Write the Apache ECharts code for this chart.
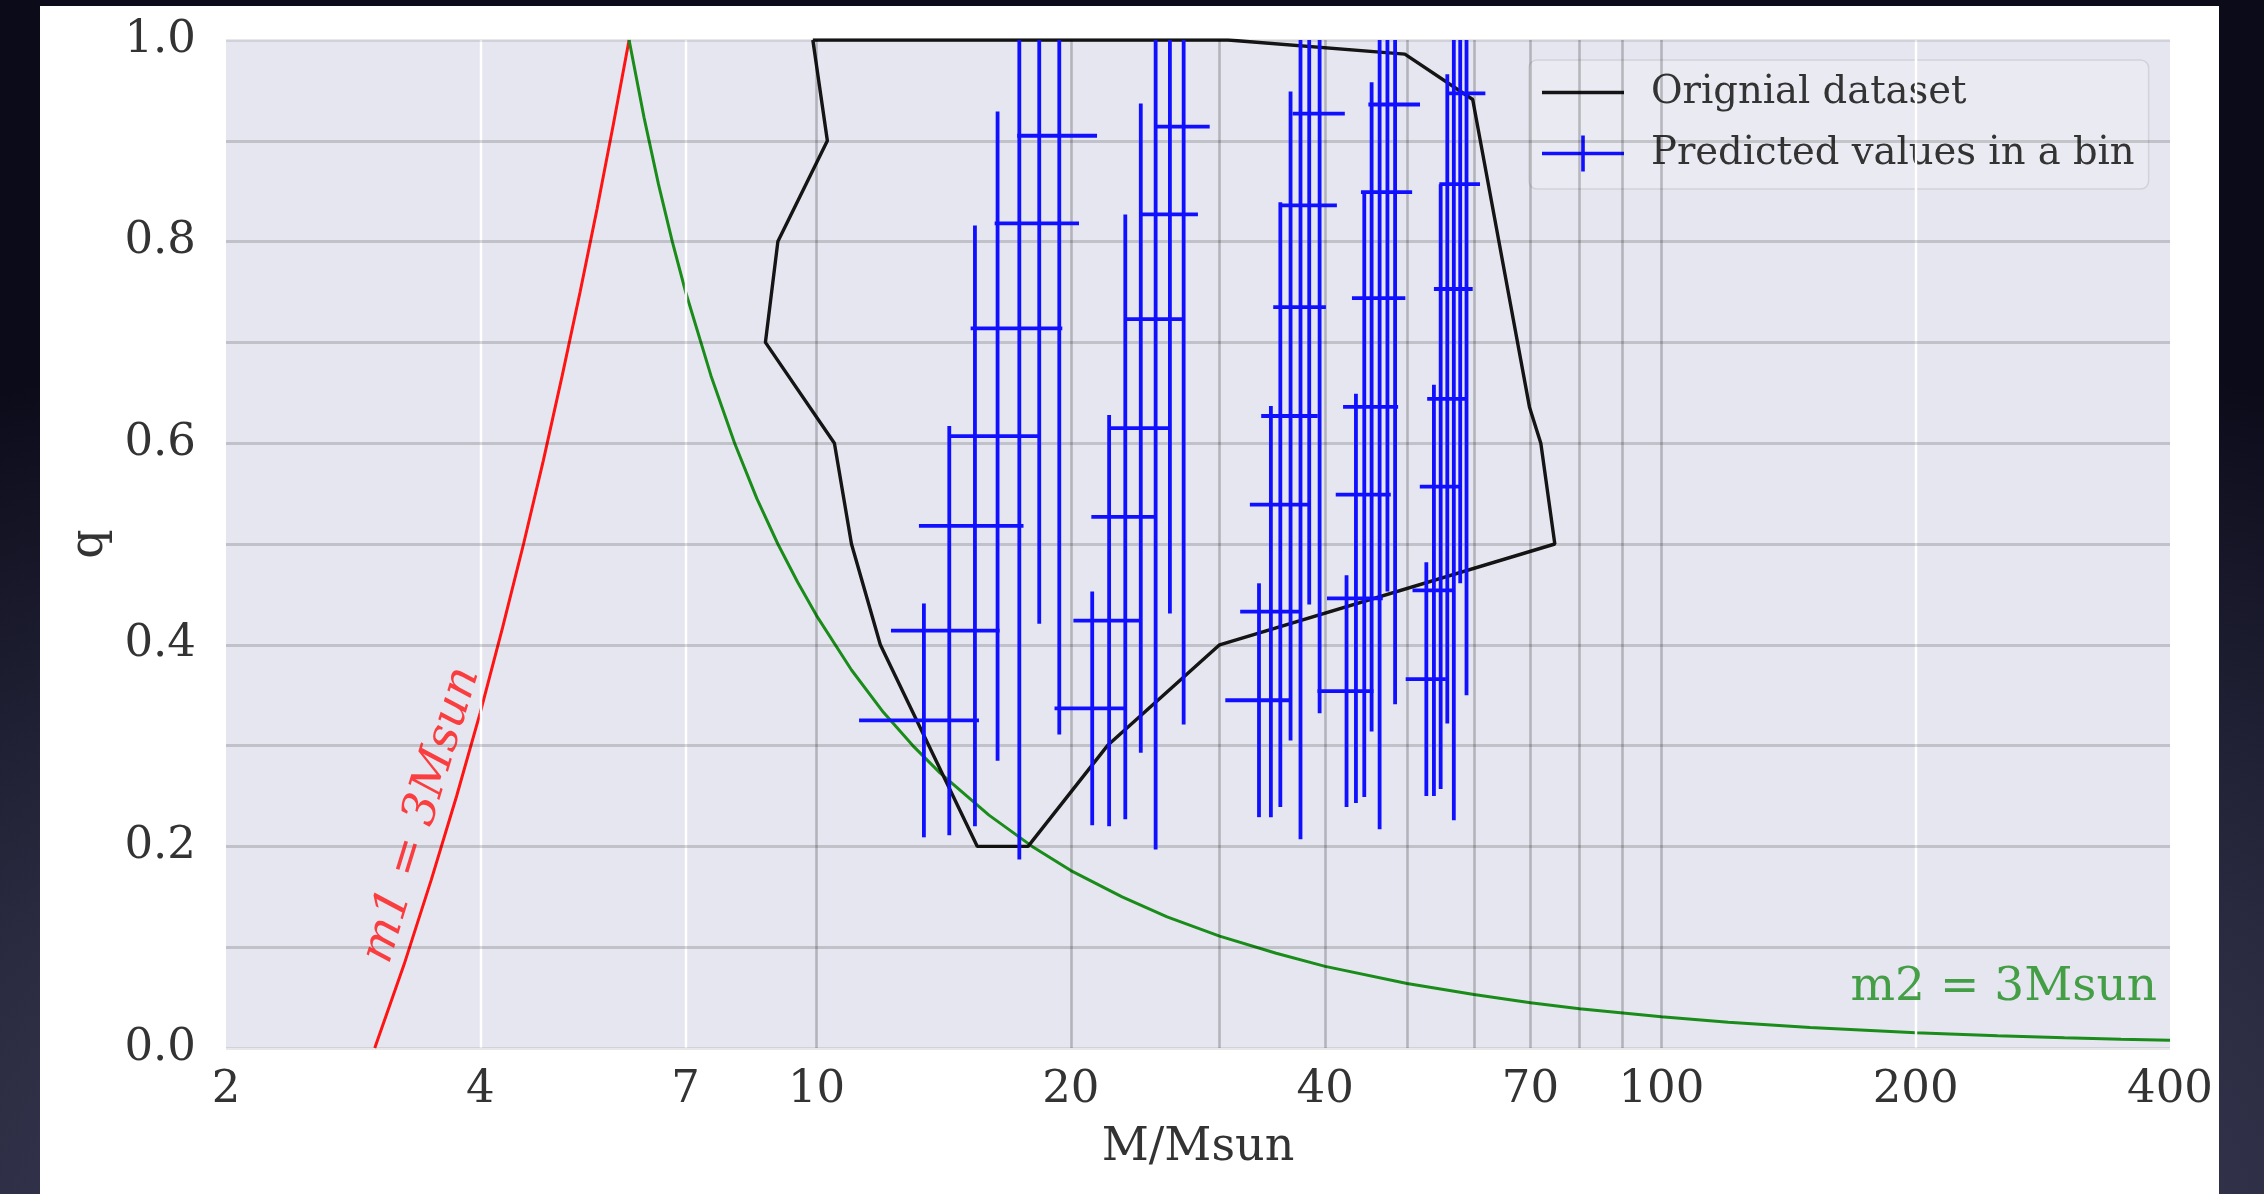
<!DOCTYPE html>
<html>
<head>
<meta charset="utf-8">
<title>Mass ratio versus total mass</title>
<script src="https://cdn.jsdelivr.net/npm/echarts@6/dist/echarts.min.js"></script>
<style>
  html, body { margin: 0; padding: 0; width: 2264px; height: 1194px; overflow: hidden; }
  body { background: radial-gradient(ellipse 95% 85% at 50% 105%, #5b5c74 0%, #35364e 45%, #0b0b1a 100%); }
  #sheet { position: absolute; left: 40px; top: 6px; width: 2179px; height: 1188px; background: #ffffff; }
  #chart { position: absolute; left: 0; top: 0; width: 2264px; height: 1194px; }
</style>
</head>
<body>
<div id="sheet"></div>
<div id="chart"></div>
<script>
// ---- axis ticks ----
const massTicks = [2, 4, 7, 10, 20, 40, 70, 100, 200, 400];
const qTicks = [0, 0.1, 0.2, 0.3, 0.4, 0.5, 0.6, 0.7, 0.8, 0.9, 1.0];
const whiteGridMass = [4, 7, 200];
const greyGridMass = [10, 20, 30, 40, 50, 60, 70, 80, 90, 100];

// ---- boundary curve: primary fixed at 3 Msun ----
const m1Mass = [3, 3.25, 3.5, 3.75, 4, 4.25, 4.5, 4.75, 5, 5.25, 5.5, 5.75, 6];
const m1Q    = [0, 0.083, 0.167, 0.25, 0.333, 0.417, 0.5, 0.583, 0.667, 0.75, 0.833, 0.917, 1.0];

// ---- boundary curve: secondary fixed at 3 Msun ----
const m2Mass = [6, 6.25, 6.5, 6.75, 7, 7.5, 8, 8.5, 9, 9.5, 10, 11, 12, 13, 14, 16, 18, 20, 23, 26, 30, 35, 40, 50, 60, 70, 80, 100, 120, 150, 200, 250, 300, 350, 400];
const m2Q    = [1.0, 0.923, 0.857, 0.8, 0.75, 0.667, 0.6, 0.545, 0.5, 0.462, 0.429, 0.375, 0.333, 0.3, 0.273, 0.231, 0.2, 0.176, 0.15, 0.130, 0.111, 0.094, 0.081, 0.064, 0.053, 0.045, 0.039, 0.031, 0.0256, 0.0204, 0.0152, 0.0121, 0.0101, 0.0087, 0.0076];

// ---- outline of the original dataset ----
const datasetMass = [9.9, 10.3, 9.0, 8.7, 10.5, 11.0, 11.9, 15.5, 17.8, 22.1, 30.0, 74.8, 72.0, 69.8, 59.8, 49.7, 30.7, 9.9];
const datasetQ    = [1.0, 0.9, 0.8, 0.7, 0.6, 0.5, 0.4, 0.2, 0.2, 0.3, 0.4, 0.5, 0.6, 0.636, 0.941, 0.986, 1.0, 1.0];

// ---- predicted values per bin: centre and symmetric errors ----
const binMass = [13.40, 14.36, 15.40, 16.38, 17.38, 18.35, 19.38,
                 21.2, 22.2, 23.2, 24.2, 25.2, 26.2, 27.2,
                 33.4, 34.5, 35.4, 36.4, 37.4, 38.3, 39.4,
                 42.4, 43.5, 44.5, 45.4, 46.4, 47.4, 48.4,
                 52.7, 53.8, 54.8, 55.8, 56.8, 57.8, 58.8];
const binQ = [0.325, 0.414, 0.518, 0.607, 0.714, 0.818, 0.905,
              0.337, 0.424, 0.527, 0.615, 0.723, 0.827, 0.914,
              0.345, 0.433, 0.539, 0.627, 0.735, 0.836, 0.927,
              0.354, 0.446, 0.549, 0.636, 0.744, 0.849, 0.936,
              0.366, 0.454, 0.557, 0.644, 0.753, 0.857, 0.947];
const binMassErr = [2.17, 2.11, 2.18, 2.04, 2.16, 2.10, 2.10,
                    2.07, 2.06, 2.05, 2.04, 2.05, 2.08, 2.00,
                    2.93, 2.77, 2.82, 2.80, 2.68, 3.00, 2.80,
                    3.23, 3.30, 3.33, 3.40, 3.37, 3.30, 3.40,
                    2.88, 3.05, 3.03, 2.98, 3.00, 3.20, 3.10];
const binQErr = [0.116, 0.203, 0.298, 0.322, 0.527, 0.397, 0.594,
                 0.116, 0.204, 0.300, 0.322, 0.526, 0.396, 0.593,
                 0.116, 0.204, 0.300, 0.322, 0.528, 0.396, 0.595,
                 0.115, 0.203, 0.300, 0.322, 0.527, 0.396, 0.595,
                 0.116, 0.204, 0.300, 0.322, 0.527, 0.396, 0.597];

// ---- text annotations ----
const m1Label = { text: 'm1 = 3Msun', mass: 3.41, q: 0.231 };
const m2Label = { text: 'm2 = 3Msun', mass: 386, q: 0.0595 };

const FONT = 'DejaVu Serif';
const BLUE = '#1010ff';
const BLACK = '#151515';
const RED = '#ff1414';
const GREEN = '#1a8c1a';

const gridLines = [];
whiteGridMass.forEach(v => gridLines.push({ xAxis: v, lineStyle: { color: '#ffffff', width: 2.4 } }));
qTicks.forEach(v => {
  const edge = (v === 0 || v === 1);
  gridLines.push({ yAxis: v, lineStyle: { color: edge ? 'rgba(0,0,0,0.09)' : 'rgba(0,0,0,0.16)', width: 2.8 } });
});
greyGridMass.forEach(v => gridLines.push({ xAxis: v, lineStyle: { color: 'rgba(0,0,0,0.22)', width: 2.6 } }));

const pairs = (xs, ys) => xs.map((x, i) => [x, ys[i]]);
const binData = binMass.map((m, i) => [m, binQ[i], binMassErr[i], binQErr[i]]);

const legendLineIcon = 'path://M0,0L0.01,0L0.01,0.01L0,0.01Z M0,16.2L82,16.2L82,19.8L0,19.8Z M81.99,35.99L82,35.99L82,36L81.99,36Z';
const legendCrossIcon = 'path://M0,16.2L82,16.2L82,19.8L0,19.8Z M39.2,0L42.8,0L42.8,36L39.2,36Z';

const chart = echarts.init(document.getElementById('chart'), null, { renderer: 'canvas' });

chart.setOption({
  animation: false,
  backgroundColor: 'transparent',
  textStyle: { fontFamily: FONT },
  grid: {
    left: 226, right: 94, top: 40, bottom: 146,
    show: true, backgroundColor: '#e6e6f0', borderWidth: 0
  },
  legend: {
    orient: 'vertical',
    left: 1529, top: 60,
    padding: [13, 14, 16, 13],
    itemWidth: 82, itemHeight: 36, itemGap: 22,
    backgroundColor: 'rgba(234,234,242,0.85)',
    borderColor: '#d2d2da', borderWidth: 1.5, borderRadius: 8,
    textStyle: { fontFamily: FONT, fontSize: 38.5, color: '#333333', padding: [0, 0, 0, 22] },
    data: [
      { name: 'Orignial dataset', icon: legendLineIcon },
      { name: 'Predicted values in a bin', icon: legendCrossIcon }
    ],
    selectedMode: false
  },
  xAxis: [
    {
      type: 'log', logBase: 10, min: 2, max: 400,
      show: false
    },
    {
      type: 'value', position: 'bottom',
      min: Math.log10(massTicks[0]), max: Math.log10(massTicks[massTicks.length - 1]),
      axisLine: { show: false }, axisTick: { show: false }, splitLine: { show: false },
      axisLabel: {
        customValues: massTicks.map(v => Math.log10(v)),
        formatter: v => String(Math.round(Math.pow(10, v))),
        showMinLabel: true, showMaxLabel: true,
        fontFamily: FONT, fontSize: 45, color: '#333333', margin: 20
      },
      name: 'M/Msun', nameLocation: 'middle', nameGap: 77,
      nameTextStyle: { fontFamily: FONT, fontSize: 46, color: '#333333' }
    }
  ],
  yAxis: {
    type: 'value', min: 0, max: 1, interval: 0.1,
    axisLine: { show: false }, axisTick: { show: false }, splitLine: { show: false },
    axisLabel: {
      formatter: v => (Math.round(v * 10) % 2 === 0 ? v.toFixed(1) : ''),
      fontFamily: FONT, fontSize: 45, color: '#333333', margin: 30
    },
    name: 'q', nameLocation: 'middle', nameGap: 108,
    nameTextStyle: { fontFamily: FONT, fontSize: 46, color: '#333333' }
  },
  series: [
    {
      name: 'grid', type: 'line', xAxisIndex: 0, data: [],
      silent: true, z: 1,
      markLine: {
        silent: true, symbol: ['none', 'none'], animation: false,
        label: { show: false },
        lineStyle: { type: 'solid' },
        emphasis: { disabled: true },
        data: gridLines
      }
    },
    {
      name: 'm1', type: 'line', xAxisIndex: 0, z: 3,
      data: pairs(m1Mass, m1Q), showSymbol: false, symbol: 'none',
      lineStyle: { color: RED, width: 3.0 }, silent: true
    },
    {
      name: 'm2', type: 'line', xAxisIndex: 0, z: 3,
      data: pairs(m2Mass, m2Q), showSymbol: false, symbol: 'none',
      lineStyle: { color: GREEN, width: 3.0 }, silent: true
    },
    {
      name: 'Orignial dataset', type: 'line', xAxisIndex: 0, z: 4,
      data: pairs(datasetMass, datasetQ), showSymbol: false, symbol: 'none',
      itemStyle: { color: BLACK },
      lineStyle: { color: BLACK, width: 3.4 }, silent: true
    },
    {
      name: 'Predicted values in a bin', type: 'custom', xAxisIndex: 0, z: 5,
      itemStyle: { color: BLUE },
      encode: { x: 0, y: 1 },
      data: binData,
      silent: true,
      renderItem: function (params, api) {
        const m = api.value(0), q = api.value(1), dm = api.value(2), dq = api.value(3);
        const cs = params.coordSys;
        const left = api.coord([m - dm, q]);
        const right = api.coord([m + dm, q]);
        const top = api.coord([m, q + dq]);
        const bottom = api.coord([m, q - dq]);
        const yTop = Math.max(top[1], cs.y);
        const yBottom = Math.min(bottom[1], cs.y + cs.height);
        const style = { stroke: BLUE, lineWidth: 3.8 };
        return {
          type: 'group',
          children: [
            { type: 'line', shape: { x1: left[0], y1: left[1], x2: right[0], y2: right[1] }, style: style },
            { type: 'line', shape: { x1: top[0], y1: yTop, x2: bottom[0], y2: yBottom }, style: style }
          ]
        };
      }
    },
    {
      name: 'annotations', type: 'scatter', xAxisIndex: 0, z: 6,
      symbolSize: 1, silent: true,
      itemStyle: { color: 'rgba(0,0,0,0)' },
      label: { show: true, position: 'inside', fontFamily: FONT, fontSize: 47 },
      data: [
        {
          value: [m1Label.mass, m1Label.q],
          label: { formatter: m1Label.text, rotate: 73, color: RED, fontStyle: 'italic', align: 'center', verticalAlign: 'middle' }
        },
        {
          value: [m2Label.mass, m2Label.q],
          label: { formatter: m2Label.text, color: GREEN, align: 'right', verticalAlign: 'middle' }
        }
      ]
    }
  ]
});
</script>
</body>
</html>
